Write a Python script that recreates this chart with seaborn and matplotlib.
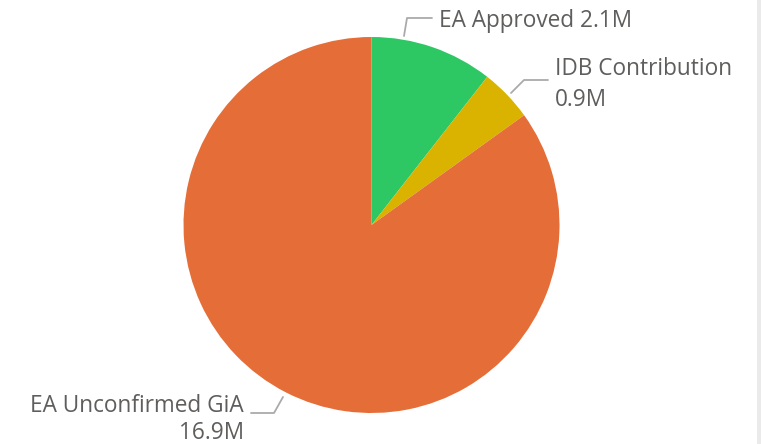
import matplotlib
matplotlib.use("Agg")
import matplotlib.pyplot as plt
import seaborn as sns

# values in millions
categories = ["EA Approved", "IDB Contribution", "EA Unconfirmed GiA"]
amounts = [2.1, 0.9, 16.9]
value_labels = ["2.1M", "0.9M", "16.9M"]
colors = ["#2DC764", "#D9B300", "#E56D37"]

sns.set_theme(style="white")
plt.rcParams["font.family"] = ["Open Sans", "DejaVu Sans"]

W, H = 761, 444
fig = plt.figure(figsize=(W / 100, H / 100), dpi=100)
ax = fig.add_axes([0, 0, 1, 1])

# pie in pixel coordinates (y flipped)
cx, cy, r = 371.5, H - 225, 188
ax.pie(amounts, colors=colors, startangle=90, counterclock=False,
       center=(cx, cy), radius=r, wedgeprops=dict(linewidth=0),
       frame=True)
ax.set_xlim(0, W)
ax.set_ylim(0, H)
ax.set_aspect("equal")
ax.axis("off")

line_kw = dict(color="#AAAAAA", lw=1.3)
text_kw = dict(color="#605E5C", fontsize=16.3)

# EA Approved
ax.plot([404, 407, 432], [H - 36, H - 18, H - 18], **line_kw)
ax.text(439, H - 21, f"{categories[0]} {value_labels[0]}", va="center", ha="left", **text_kw)

# IDB Contribution
ax.plot([511, 524, 548], [H - 93, H - 80, H - 80], **line_kw)
ax.text(555, H - 69, categories[1], va="center", ha="left", **text_kw)
ax.text(555, H - 100, value_labels[1], va="center", ha="left", **text_kw)

# EA Unconfirmed GiA
ax.plot([283, 274, 251], [H - 397, H - 413, H - 413], **line_kw)
ax.text(244, H - 406, categories[2], va="center", ha="right", **text_kw)
ax.text(244, H - 433, value_labels[2], va="center", ha="right", **text_kw)

# right border strip
ax.axvspan(757, 761, color="#EAEAEA", lw=0)

fig.savefig("out.png", dpi=100)
